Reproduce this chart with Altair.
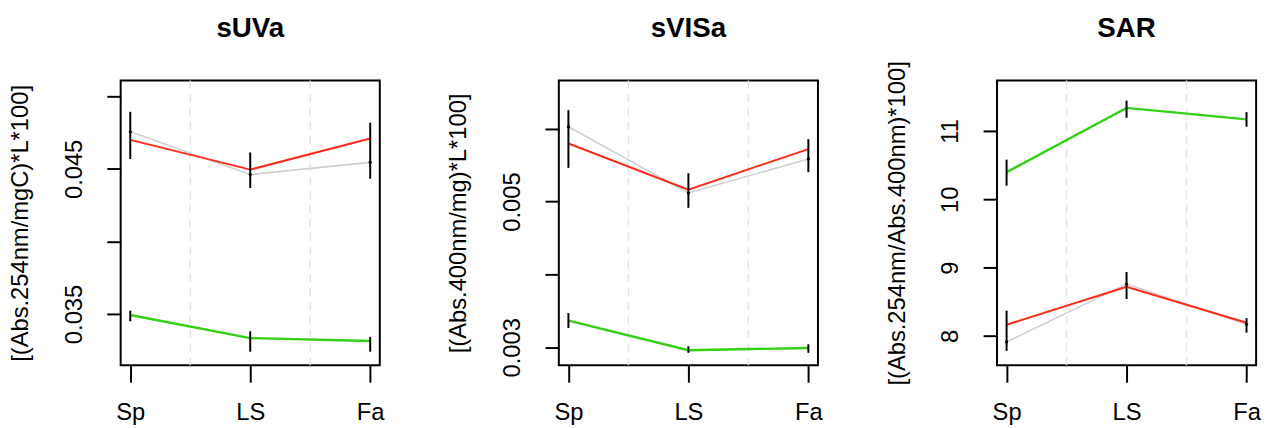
import altair as alt
import pandas as pd

seasons = ["Sp", "LS", "Fa"]
titles = ["sUVa", "sVISa", "SAR"]
ytitles = ["[(Abs.254nm/mgC)*L*100]", "[(Abs.400nm/mg)*L*100]", "[(Abs.254nm/Abs.400nm)*100]"]

# sUVa
suva_grey = [0.04756, 0.04461, 0.04545]
suva_red = [0.04700, 0.04495, 0.04709]
suva_green = [0.03493, 0.03334, 0.03314]
suva_err_lo = [0.04568, 0.04368, 0.04432]
suva_err_hi = [0.04893, 0.04613, 0.04818]
suva_gerr_lo = [0.03450, 0.03240, 0.03240]
suva_gerr_hi = [0.03523, 0.03381, 0.03342]

# sVISa
svisa_grey = [0.006027, 0.005118, 0.005585]
svisa_red = [0.005796, 0.005164, 0.005720]
svisa_green = [0.003367, 0.002959, 0.002991]
svisa_err_lo = [0.005462, 0.004914, 0.005403]
svisa_err_hi = [0.006254, 0.005389, 0.005856]
svisa_gerr_lo = [0.003264, 0.002924, 0.002924]
svisa_gerr_hi = [0.003471, 0.003014, 0.003041]

# SAR
sar_grey = [7.913, 8.76, 8.17]
sar_red = [8.164, 8.719, 8.193]
sar_green = [10.397, 11.337, 11.169]
sar_err_lo = [7.782, 8.540, 8.05]
sar_err_hi = [8.370, 8.935, 8.26]
sar_gerr_lo = [10.20, 11.193, 11.062]
sar_gerr_hi = [10.58, 11.444, 11.275]

y_domains = [[0.03146, 0.05109], [0.002752, 0.006661], [7.570, 11.738]]
y_ticks = [[0.035, 0.040, 0.045, 0.050], [0.003, 0.004, 0.005, 0.006], [8, 9, 10, 11]]
y_labeled = [[0.035, 0.045], [0.003, 0.005], [8, 9, 10, 11]]
y_formats = [".3f", ".3f", "d"]
grid_x = [1.5, 2.5]

series_names = ["grey", "red", "green"]
series_colors = ["#d0d0d0", "#ff2a1a", "#33d014"]
series_widths = [1.6, 2.4, 2.4]

FONT = "Liberation Sans"
W, H = 262, 288

panels_data = [
    (suva_grey, suva_red, suva_green, suva_err_lo, suva_err_hi, suva_gerr_lo, suva_gerr_hi),
    (svisa_grey, svisa_red, svisa_green, svisa_err_lo, svisa_err_hi, svisa_gerr_lo, svisa_gerr_hi),
    (sar_grey, sar_red, sar_green, sar_err_lo, sar_err_hi, sar_gerr_lo, sar_gerr_hi),
]

season_list = "[" + ",".join("'%s'" % s for s in seasons) + "]"


def panel(i):
    grey, red, green, elo, ehi, glo, ghi = panels_data[i]
    xs = list(range(1, len(seasons) + 1))
    rows = []
    for name, vals in zip(series_names, [grey, red, green]):
        for x, v in zip(xs, vals):
            rows.append({"x": x, "v": v, "series": name})
    lines_df = pd.DataFrame(rows)
    err_df = pd.DataFrame({"x": xs * 2, "lo": elo + glo, "hi": ehi + ghi})
    dot_df = pd.DataFrame({"x": xs, "v": grey})
    grid_df = pd.DataFrame({"x": grid_x})
    title_df = pd.DataFrame({"t": [titles[i]]})

    labeled = "[" + ",".join(str(v) for v in y_labeled[i]) + "]"
    xscale = alt.Scale(domain=[0.92, 3.08], nice=False, zero=False)
    yscale = alt.Scale(domain=y_domains[i], nice=False, zero=False)

    xaxis = alt.Axis(
        values=xs, labelExpr=season_list + "[datum.value-1]", grid=False, domain=False,
        tickSize=17, tickWidth=2, tickColor="black", labelPadding=19,
        labelFontSize=24, labelFont=FONT, labelColor="black", title=None,
        labelFlush=False, labelOverlap=False,
    )
    yaxis = alt.Axis(
        values=y_ticks[i],
        labelExpr="indexof(" + labeled + ", datum.value) >= 0 ? format(datum.value, '" + y_formats[i] + "') : ''",
        grid=False, domain=False, tickSize=14, tickWidth=2, tickColor="black",
        labelAngle=270, labelAlign="center", labelBaseline="alphabetic", labelPadding=26,
        labelFontSize=24, labelFont=FONT, labelColor="black", labelOverlap=False, labelFlush=False,
        title=ytitles[i], titleFont=FONT, titleFontSize=24, titleFontWeight="normal",
        titleColor="black", titleAngle=270, titleAlign="center", titleBaseline="alphabetic",
        titleX=-94, titleY=H / 2,
    )

    grid = alt.Chart(grid_df).mark_rule(color="#e4e4e4", strokeDash=[8, 6], strokeWidth=1.5).encode(
        x=alt.X("x:Q", scale=xscale, axis=xaxis),
    )
    lines = alt.Chart(lines_df).mark_line().encode(
        x=alt.X("x:Q", scale=xscale, axis=xaxis),
        y=alt.Y("v:Q", scale=yscale, axis=yaxis),
        color=alt.Color("series:N", scale=alt.Scale(domain=series_names, range=series_colors), legend=None),
        strokeWidth=alt.StrokeWidth("series:N", scale=alt.Scale(domain=series_names, range=series_widths), legend=None),
        order=alt.Order("x:Q"),
    )
    errs = alt.Chart(err_df).mark_rule(color="black", strokeWidth=2).encode(
        x=alt.X("x:Q", scale=xscale, axis=xaxis),
        y=alt.Y("lo:Q", scale=yscale, axis=yaxis),
        y2="hi:Q",
    )
    dots = alt.Chart(dot_df).mark_point(filled=True, color="black", size=10, opacity=1).encode(
        x=alt.X("x:Q", scale=xscale, axis=xaxis),
        y=alt.Y("v:Q", scale=yscale, axis=yaxis),
    )
    ttl = alt.Chart(title_df).mark_text(
        font=FONT, fontSize=28, fontWeight="bold", color="black", align="center", baseline="alphabetic",
    ).encode(
        x=alt.value(W / 2), y=alt.value(-44), text="t:N",
    )
    return alt.layer(grid, lines, errs, dots, ttl).properties(width=W, height=H)


chart = alt.hconcat(panel(0), panel(1), panel(2), spacing=181, bounds="flush").properties(
    padding={"left": 7, "top": 12, "right": 5, "bottom": 5},
).configure(background="white").configure_view(stroke="black", strokeWidth=2)

chart.save("out.html", embed_options={"renderer": "svg", "actions": False})
